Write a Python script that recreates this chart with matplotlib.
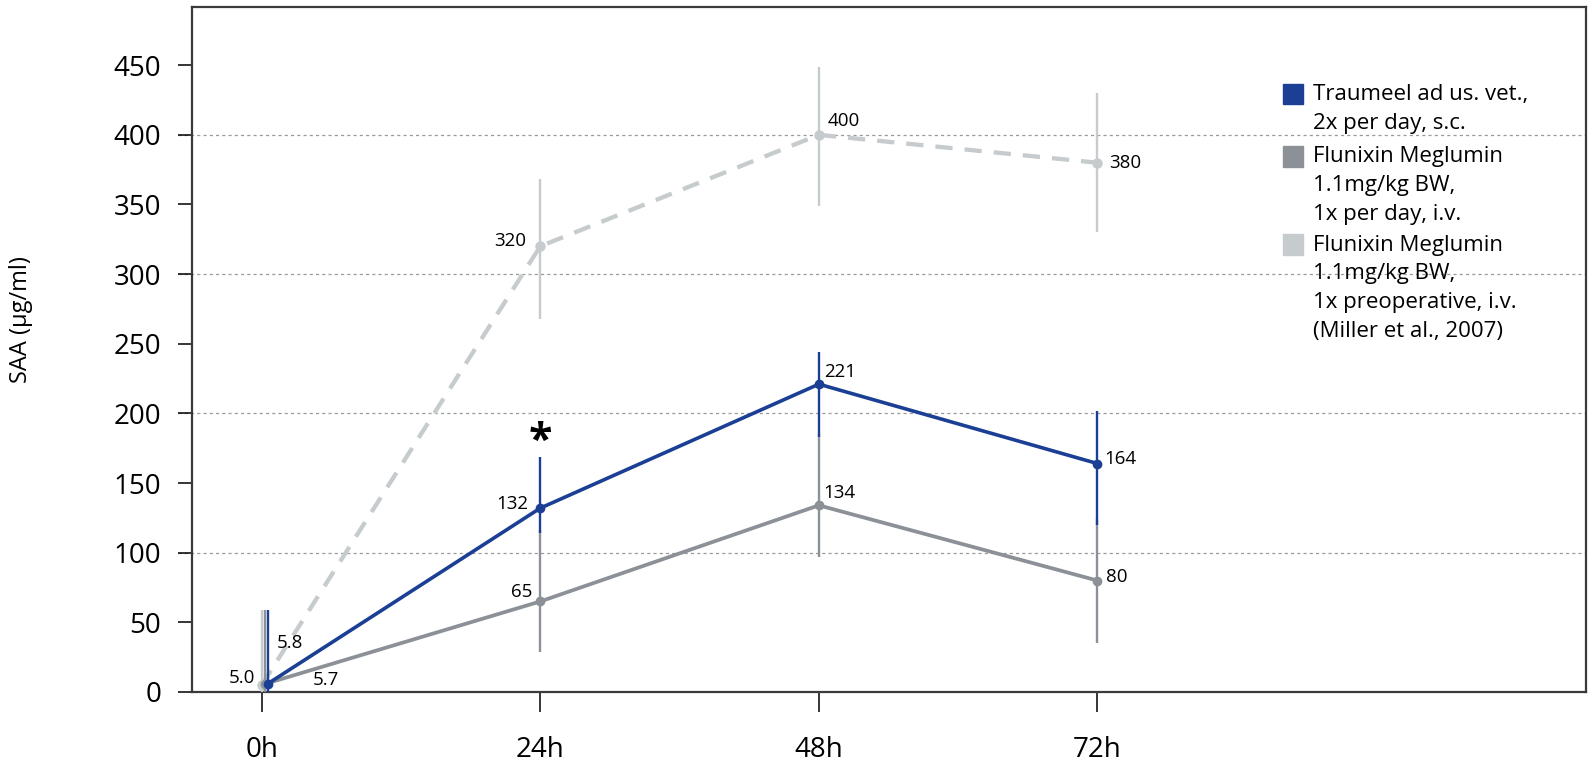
import matplotlib
matplotlib.use("Agg")
import matplotlib.pyplot as plt
from matplotlib.patches import Rectangle
import numpy as np

plt.rcParams['font.family'] = ['Open Sans', 'DejaVu Sans']

# --- DATA ---
times = [0, 24, 48, 72]
tick_labels = ["0h", "24h", "48h", "72h"]

traumeel = [5.8, 132, 221, 164]
traumeel_lo = [0, 114, 183, 120]
traumeel_hi = [59, 169, 244, 202]

flunixin_day = [5.7, 65, 134, 80]
flunixin_day_lo = [0, 29, 97, 35]
flunixin_day_hi = [59, 116, 185, 124]

flunixin_pre = [5.0, 320, 400, 380]
flunixin_pre_lo = [0, 268, 349, 330]
flunixin_pre_hi = [59, 368, 449, 430]

legend_labels = [
    ["Traumeel ad us. vet.,", "2x per day, s.c."],
    ["Flunixin Meglumin", "1.1mg/kg BW,", "1x per day, i.v."],
    ["Flunixin Meglumin", "1.1mg/kg BW,", "1x preoperative, i.v.", "(Miller et al., 2007)"],
]

# --- STYLE ---
c_blue = "#1b3f94"
c_gray = "#8b9197"
c_light = "#c6cbce"

W, H = 1595, 761
fig = plt.figure(figsize=(W / 100, H / 100), dpi=100)
ax = fig.add_axes([0.1202, 0.0907, 0.8742, 0.9005])


def fx(px):
    return px / W


def fy(py):
    return 1 - py / H


def yerr(vals, lo, hi):
    v = np.array(vals, float)
    return [v - np.array(lo), np.array(hi) - v]


# small shift of the 0h points so the bars don't sit on top of each other
def shifted(dx):
    x = np.array(times, float)
    x[0] += dx
    return x


ax.errorbar(shifted(0.0), flunixin_pre, yerr=yerr(flunixin_pre, flunixin_pre_lo, flunixin_pre_hi),
            color=c_light, lw=3.1, dashes=(4, 2.8), marker="o", ms=6.5,
            elinewidth=1.7, capsize=0, zorder=3)
ax.errorbar(shifted(0.25), flunixin_day, yerr=yerr(flunixin_day, flunixin_day_lo, flunixin_day_hi),
            color=c_gray, lw=2.7, marker="o", ms=6,
            elinewidth=1.7, capsize=0, zorder=4)
ax.errorbar(shifted(0.5), traumeel, yerr=yerr(traumeel, traumeel_lo, traumeel_hi),
            color=c_blue, lw=2.6, marker="o", ms=6,
            elinewidth=1.7, capsize=0, zorder=5)

# --- VALUE LABELS ---
lab_fs = 13.5
offsets_blue = [(22, 41), (-28, 4), (21, 12), (23, 5)]
offsets_gray = [(61, 4), (-19, 9), (21, 12), (19, 4)]
offsets_light = [(-20, 7), (-30, 5), (25, 14), (28, 0)]
for vals, offs, dx in [(traumeel, offsets_blue, 0.5), (flunixin_day, offsets_gray, 0.25),
                       (flunixin_pre, offsets_light, 0.0)]:
    for x, v, o in zip(shifted(dx), vals, offs):
        txt = f"{v:.1f}" if v < 10 else f"{v:.0f}"
        ax.annotate(txt, (x, v), xytext=o, textcoords="offset pixels",
                    ha="center", va="center", fontsize=lab_fs, zorder=6)

# significance star above the 24h Traumeel bar
ax.annotate("*", (times[1], traumeel_hi[1]), xytext=(0, -7), textcoords="offset pixels",
            ha="center", va="bottom", fontsize=31, fontweight="bold")

# --- AXES ---
ax.set_xlim(-6.03, 114.1)
ax.set_ylim(0, 492)
ax.set_xticks(times)
ax.set_xticklabels(tick_labels)
ax.set_yticks(np.arange(0, 451, 50))
ax.tick_params(axis="x", direction="out", length=14.4, width=1.1, pad=17, labelsize=20)
ax.tick_params(axis="y", direction="out", length=10, width=1.1, pad=12, labelsize=20)
for s in ax.spines.values():
    s.set_color("#3a3a3a")
    s.set_linewidth(1.6)

for g in [100, 200, 300, 400]:
    ax.axhline(g, xmin=-0.01, xmax=1, color="#9a9a9a", lw=0.9, ls=(0, (2.5, 2.5)),
               clip_on=False, zorder=1)

ax.set_ylabel("SAA (µg/ml)", fontsize=17)
ax.yaxis.set_label_coords(-0.114, 0.543)

# --- LEGEND (drawn by hand so the squares sit at the first text line) ---
legend_colors = [c_blue, c_gray, c_light]
entry_y = [94.3, 156.7, 245]
line_h = 28.7
for col, lines, y0 in zip(legend_colors, legend_labels, entry_y):
    fig.patches.append(Rectangle((fx(1282.7), fy(y0 + 10)), 20.6 / W, 20.6 / H,
                                 transform=fig.transFigure, color=col, zorder=7))
    for i, line in enumerate(lines):
        fig.text(fx(1312.7), fy(y0 + i * line_h), line, ha="left", va="center",
                 fontsize=16, zorder=7)

fig.savefig("out.png", dpi=100)
